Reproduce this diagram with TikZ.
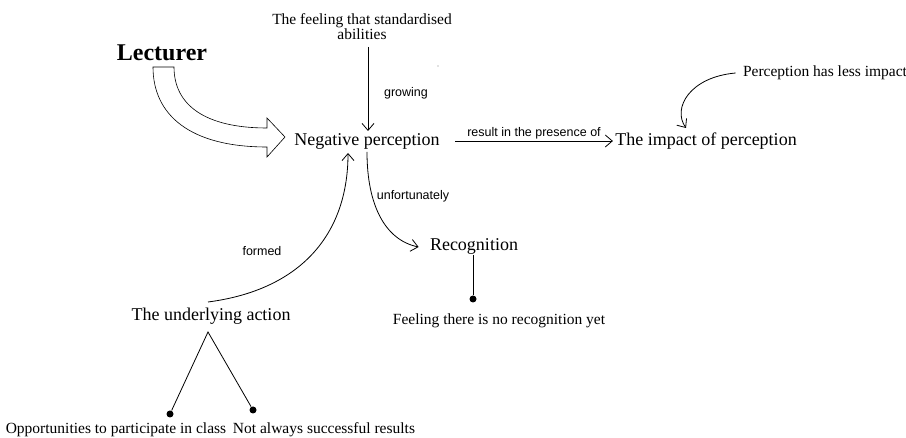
\documentclass[tikz,border=0pt]{standalone}
\usepackage{fontspec}
\setmainfont{Liberation Serif}
\newfontfamily\lblfont{Liberation Sans}
\usetikzlibrary{arrows.meta,calc}
\begin{document}
\begin{tikzpicture}[x=1pt,y=-1pt,
  line width=0.8pt,
  vee/.style={-{Straight Barb[length=7pt,width=12pt,line width=0.8pt]}},
  big/.style={inner sep=1pt,font=\fontsize{18}{20}\selectfont},
  small/.style={inner sep=1pt,align=center,font=\fontsize{15.5}{17}\selectfont},
  lbl/.style={inner sep=1pt,font=\lblfont\fontsize{12.5}{14}\selectfont},
  dot/.style={circle,fill=black,inner sep=0pt,minimum size=7pt}]
\useasboundingbox (0,0) rectangle (906,438);

% concepts
\node[inner sep=1pt,font=\bfseries\fontsize{24}{26}\selectfont] (lect) at (162,53) {Lecturer};
\node[small] (feel) at (362,27) {The feeling that standardised\\[-2pt]abilities};
\node[big] (neg) at (367,141) {Negative perception};
\node[big] (imp) at (706,141) {The impact of perception};
\node[small] (less) at (825,73) {Perception has less impact};
\node[big] (rec) at (474,246) {Recognition};
\node[small] (norec) at (499,321) {Feeling there is no recognition yet};
\node[big] (act) at (211,316) {The underlying action};
\node[small] (opp) at (116,430) {Opportunities to participate in class};
\node[small] (nas) at (324,430) {Not always successful results};

% hollow curved arrow from the lecturer
\draw[line width=0.6pt,fill=white]
  (153,67) -- (174,67) .. controls (174,105) and (205,128) .. (267,128)
  -- (267,118) -- (285,137) -- (267,157) -- (267,147)
  .. controls (190,147) and (153,115) .. (153,67) -- cycle;

% connectors
\draw[vee] (368,47) -- (368,131);
\node[lbl] at (406,93) {growing};
\draw[vee] (neg.east) ++(14,0) coordinate (r0) -- ($(imp.west)+(-1,0)$)
  node[lbl,midway,above=1pt] {result in the presence of};
\draw[vee] (less.west) ++(-6,0) .. controls (690,77) and (672,108) .. (686,128);
\draw[vee] (367,152) .. controls (367,205) and (385,240) .. ($(rec.west)+(-10,1)$);
\node[lbl] at (413,196) {unfortunately};
\draw[vee] (208,302) .. controls (300,290) and (348,235) .. (348,153);
\node[lbl] at (262,251) {formed};

\node[dot] (d1) at (473,299) {};
\draw (rec.south) ++(-1,0) -- (d1);

\coordinate (apex) at (208,332);
\node[dot] (d2) at (170,414) {};
\node[dot] (d3) at (253,410) {};
\draw (d2) -- (apex) -- (d3);

\fill[gray] (438,66) circle (0.7pt);
\end{tikzpicture}
\end{document}
